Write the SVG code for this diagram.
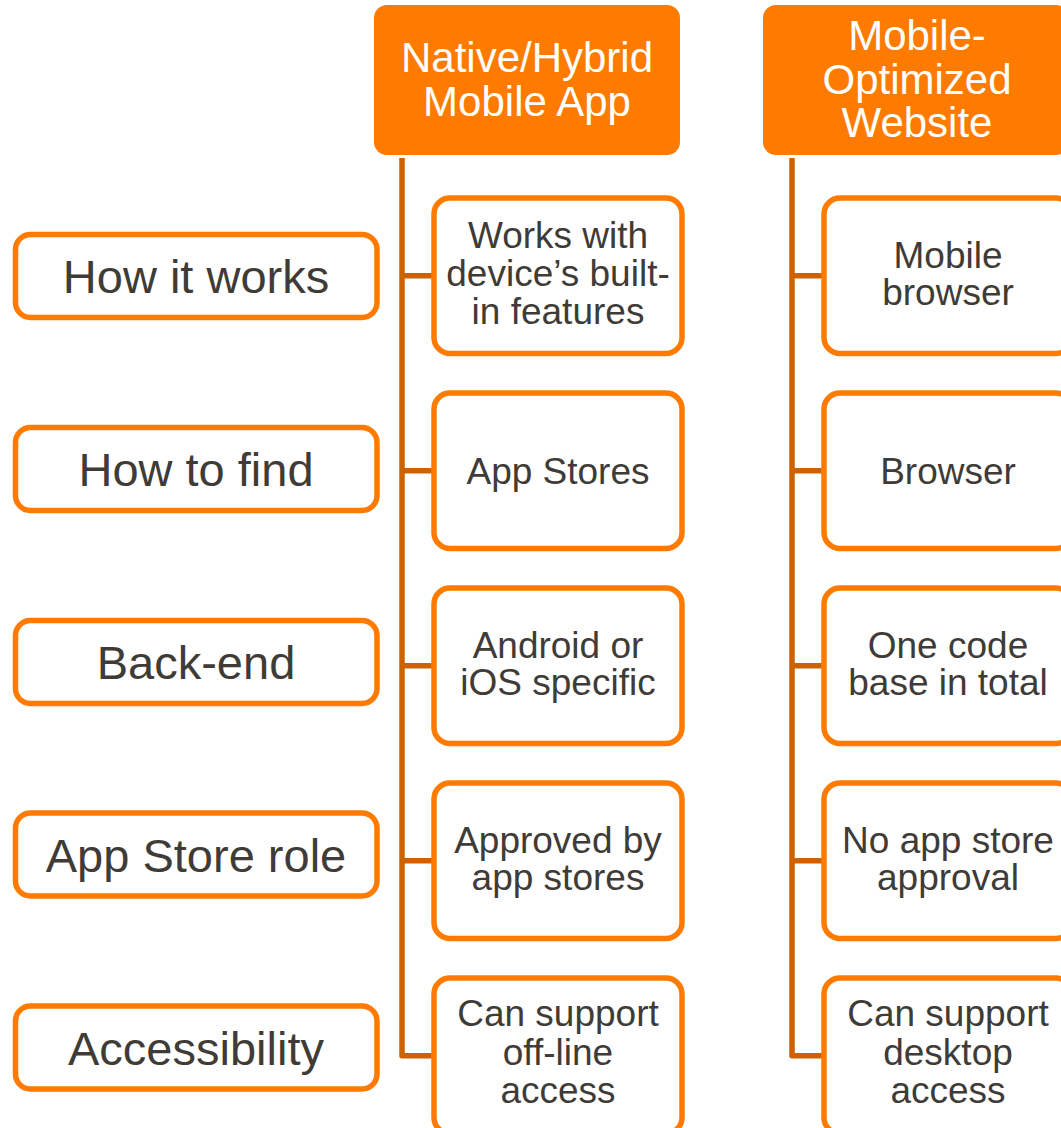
<svg xmlns="http://www.w3.org/2000/svg" width="1061" height="1128" viewBox="0 0 1061 1128">
<style>
.hdr{fill:#FF7B00;}
.htxt{font-family:"Liberation Sans",Arial,sans-serif;font-size:42px;fill:#FFFFFF;text-anchor:middle;}
.box{fill:#FFFFFF;stroke:#FF7B00;stroke-width:5.5;}
.ctxt{font-family:"Liberation Sans",Arial,sans-serif;font-size:37px;fill:#3F3B37;text-anchor:middle;}
.ltxt{font-family:"Liberation Sans",Arial,sans-serif;font-size:47px;fill:#3F3B37;text-anchor:middle;}
.con{fill:none;stroke:#CC6200;stroke-width:5.5;stroke-linejoin:round;}
</style>
<rect width="1061" height="1128" fill="#FFFFFF"/>
<g id="connectors">
<path class="con" d="M402,158 V1055.75 H434"/>
<path class="con" d="M402,275.75 H434 M402,470.75 H434 M402,665.75 H434 M402,860.75 H434"/>
<path class="con" d="M792,158 V1055.75 H824"/>
<path class="con" d="M792,275.75 H824 M792,470.75 H824 M792,665.75 H824 M792,860.75 H824"/>
</g>
<g id="header-native">
<rect class="hdr" x="374" y="5" width="306" height="150" rx="13"/>
<text class="htxt" x="527" y="72">Native/Hybrid</text>
<text class="htxt" x="527" y="116">Mobile App</text>
</g>
<g id="header-web">
<rect class="hdr" x="763" y="5" width="306" height="150" rx="13"/>
<text class="htxt" x="917" y="50">Mobile-</text>
<text class="htxt" x="917" y="93.5">Optimized</text>
<text class="htxt" x="917" y="137">Website</text>
</g>
<g id="label-how-it-works">
<rect class="box" x="15.5" y="234.5" width="361.5" height="83" rx="15"/>
<text class="ltxt" x="196" y="293">How it works</text>
</g>
<g id="label-how-to-find">
<rect class="box" x="15.5" y="427.5" width="361.5" height="83" rx="15"/>
<text class="ltxt" x="196" y="486">How to find</text>
</g>
<g id="label-back-end">
<rect class="box" x="15.5" y="620.5" width="361.5" height="83" rx="15"/>
<text class="ltxt" x="196" y="679">Back-end</text>
</g>
<g id="label-app-store-role">
<rect class="box" x="15.5" y="813" width="361.5" height="83" rx="15"/>
<text class="ltxt" x="196" y="871.5">App Store role</text>
</g>
<g id="label-accessibility">
<rect class="box" x="15.5" y="1006" width="361.5" height="83" rx="15"/>
<text class="ltxt" x="196" y="1064.5">Accessibility</text>
</g>
<g id="native-1">
<rect class="box" x="434" y="198" width="248" height="155.5" rx="16"/>
<text class="ctxt" x="558" y="248">Works with</text>
<text class="ctxt" x="558" y="286">device’s built-</text>
<text class="ctxt" x="558" y="324">in features</text>
</g>
<g id="native-2">
<rect class="box" x="434" y="393" width="248" height="155.5" rx="16"/>
<text class="ctxt" x="558" y="484">App Stores</text>
</g>
<g id="native-3">
<rect class="box" x="434" y="588" width="248" height="155.5" rx="16"/>
<text class="ctxt" x="558" y="658">Android or</text>
<text class="ctxt" x="558" y="695">iOS specific</text>
</g>
<g id="native-4">
<rect class="box" x="434" y="783" width="248" height="155.5" rx="16"/>
<text class="ctxt" x="558" y="853">Approved by</text>
<text class="ctxt" x="558" y="890">app stores</text>
</g>
<g id="native-5">
<rect class="box" x="434" y="978" width="248" height="155.5" rx="16"/>
<text class="ctxt" x="558" y="1026">Can support</text>
<text class="ctxt" x="558" y="1064.5">off-line</text>
<text class="ctxt" x="558" y="1103">access</text>
</g>
<g id="web-1">
<rect class="box" x="824" y="198" width="248" height="155.5" rx="16"/>
<text class="ctxt" x="948" y="268">Mobile</text>
<text class="ctxt" x="948" y="305">browser</text>
</g>
<g id="web-2">
<rect class="box" x="824" y="393" width="248" height="155.5" rx="16"/>
<text class="ctxt" x="948" y="484">Browser</text>
</g>
<g id="web-3">
<rect class="box" x="824" y="588" width="248" height="155.5" rx="16"/>
<text class="ctxt" x="948" y="658">One code</text>
<text class="ctxt" x="948" y="695">base in total</text>
</g>
<g id="web-4">
<rect class="box" x="824" y="783" width="248" height="155.5" rx="16"/>
<text class="ctxt" x="948" y="853">No app store</text>
<text class="ctxt" x="948" y="890">approval</text>
</g>
<g id="web-5">
<rect class="box" x="824" y="978" width="248" height="155.5" rx="16"/>
<text class="ctxt" x="948" y="1026">Can support</text>
<text class="ctxt" x="948" y="1064.5">desktop</text>
<text class="ctxt" x="948" y="1103">access</text>
</g>
</svg>
